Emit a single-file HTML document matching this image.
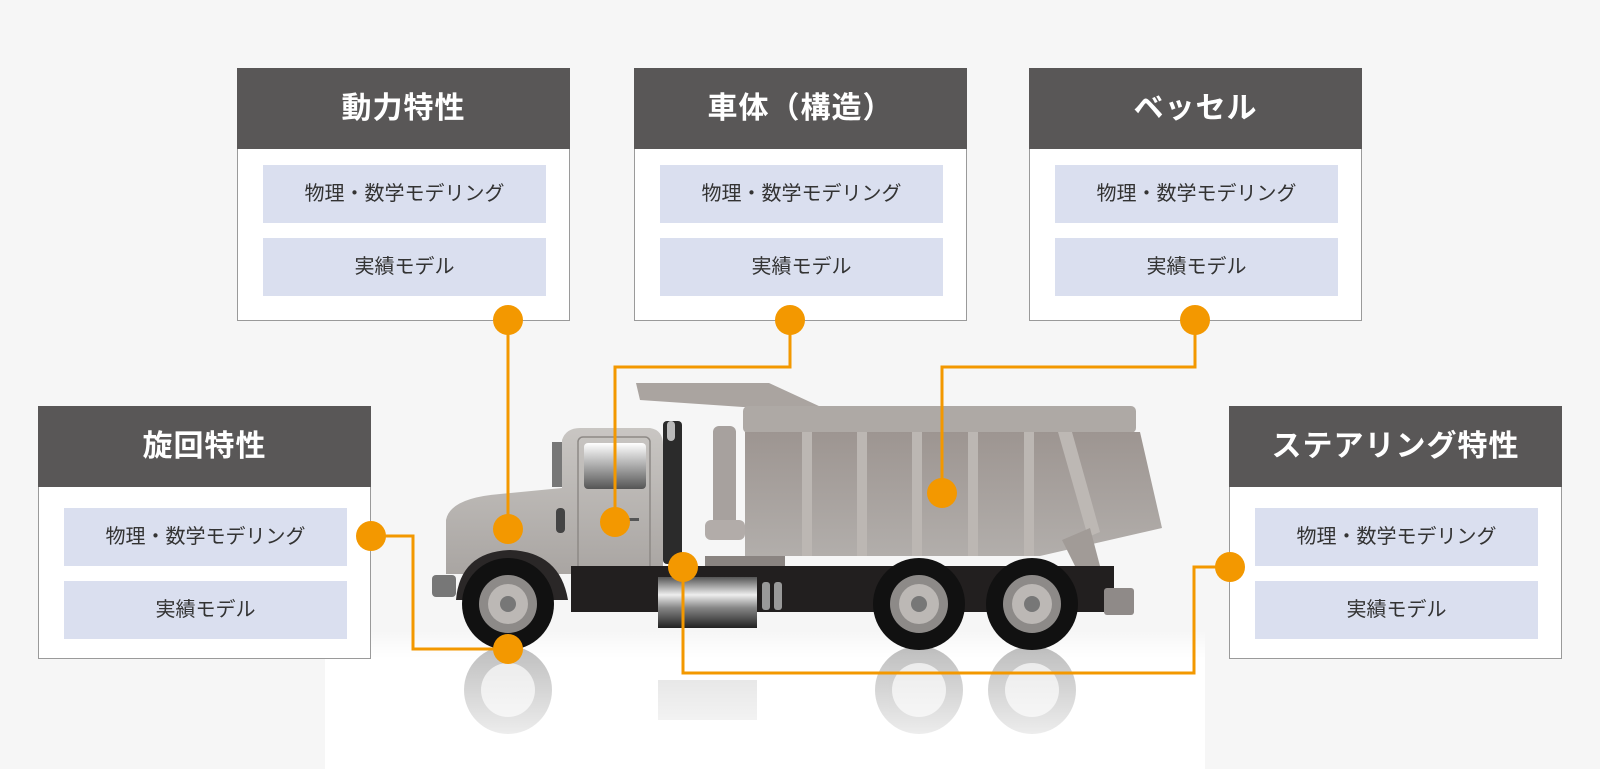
<!DOCTYPE html>
<html><head><meta charset="utf-8"><style>
html,body{margin:0;padding:0;}
body{width:1600px;height:769px;background:#f6f6f6;position:relative;overflow:hidden;font-family:"Liberation Sans","Noto Sans CJK JP",sans-serif;}
.box{position:absolute;background:#fff;border:1px solid #9a9a9a;box-sizing:border-box;width:333px;}
.hd{position:absolute;left:-1px;right:-1px;top:-1px;height:81px;background:#595757;color:#fff;font-weight:bold;font-size:30px;line-height:81px;text-align:center;letter-spacing:1px;}
.it{position:absolute;left:25px;width:283px;height:58px;background:#dadfef;color:#333;font-size:20px;line-height:58px;text-align:center;}
svg{position:absolute;left:0;top:0;}
#top{z-index:5;}
</style></head><body>
<svg width="1600" height="769" viewBox="0 0 1600 769">
<defs>
<linearGradient id="flr" x1="0" y1="0" x2="0" y2="1"><stop offset="0" stop-color="#fff" stop-opacity="0"/><stop offset="0.2" stop-color="#fff"/><stop offset="1" stop-color="#fff"/></linearGradient>
<linearGradient id="bod" x1="0" y1="0" x2="0" y2="1"><stop offset="0" stop-color="#9d9591"/><stop offset="1" stop-color="#b2aeab"/></linearGradient>
<linearGradient id="cab" x1="0" y1="0" x2="0" y2="1"><stop offset="0" stop-color="#c9c6c3"/><stop offset="1" stop-color="#a9a5a2"/></linearGradient>
<linearGradient id="tank" x1="0" y1="0" x2="0" y2="1"><stop offset="0" stop-color="#555"/><stop offset="0.35" stop-color="#eee"/><stop offset="0.6" stop-color="#888"/><stop offset="1" stop-color="#222"/></linearGradient>
<linearGradient id="win" x1="0" y1="0" x2="0" y2="1"><stop offset="0" stop-color="#fff"/><stop offset="1" stop-color="#555"/></linearGradient>
<linearGradient id="rf" x1="0" y1="0" x2="0" y2="1"><stop offset="0" stop-color="#fff" stop-opacity="0"/><stop offset="1" stop-color="#fff" stop-opacity="1"/></linearGradient>
</defs>
<rect x="325" y="630" width="880" height="139" fill="url(#flr)"/>
<g opacity="0.3">
<circle cx="508" cy="690" r="44" fill="#333"/><circle cx="508" cy="690" r="27" fill="#bbb"/>
<circle cx="919" cy="690" r="44" fill="#333"/><circle cx="919" cy="690" r="27" fill="#bbb"/>
<circle cx="1032" cy="690" r="44" fill="#333"/><circle cx="1032" cy="690" r="27" fill="#bbb"/>
<rect x="658" y="680" width="99" height="40" fill="#999"/>
</g>
<rect x="420" y="650" width="760" height="119" fill="url(#rf)"/>
<polygon points="636,383 769,383 821,407 743,407 640,400" fill="#aaa4a0"/>
<rect x="743" y="406" width="393" height="27" rx="5" fill="#aea9a5"/>
<polygon points="745,432 1140,432 1162,528 1040,556 745,556" fill="url(#bod)"/>
<polygon points="1058,432 1072,432 1100,532 1088,537" fill="#bdb8b4"/>
<g fill="#bcb7b3"><rect x="802" y="432" width="10" height="124"/><rect x="857" y="432" width="10" height="124"/><rect x="912" y="432" width="10" height="124"/><rect x="968" y="432" width="10" height="124"/><rect x="1024" y="432" width="10" height="124"/></g>
<polygon points="1062,540 1090,528 1100,566 1075,566" fill="#a19b97"/>
<rect x="713" y="426" width="23" height="110" rx="6" fill="#a7a19e"/>
<rect x="705" y="520" width="40" height="20" rx="6" fill="#b2aca9"/>
<rect x="705" y="556" width="80" height="14" fill="#8a8481"/>
<path d="M446,520 Q450,498 500,494 L562,488 L562,440 Q566,428 580,428 L650,428 Q663,430 663,445 L663,574 L446,574 Z" fill="url(#cab)"/>
<rect x="578" y="437" width="72" height="134" rx="5" fill="none" stroke="#8d8986" stroke-width="1.5"/>
<rect x="584" y="443" width="62" height="46" rx="4" fill="url(#win)"/>
<rect x="552" y="442" width="10" height="45" fill="#777"/>
<rect x="556" y="508" width="9" height="25" rx="4" fill="#444"/>
<rect x="625" y="518" width="14" height="3" fill="#555"/>
<path d="M456,600 Q460,552 510,550 Q560,552 568,600 Z" fill="#2a2727"/>
<rect x="663" y="421" width="19" height="143" rx="4" fill="#2b2b2b"/>
<rect x="667" y="421" width="8" height="20" rx="4" fill="#bbb"/>
<rect x="571" y="566" width="543" height="46" fill="#221f1f"/>
<rect x="432" y="575" width="24" height="22" rx="4" fill="#777"/>
<rect x="1104" y="588" width="30" height="27" rx="3" fill="#8f8a88"/>
<rect x="658" y="577" width="99" height="51" fill="url(#tank)"/>
<rect x="762" y="582" width="8" height="28" rx="3" fill="#999"/><rect x="774" y="582" width="8" height="28" rx="3" fill="#999"/>
<circle cx="508" cy="604" r="46" fill="#111"/><circle cx="508" cy="604" r="29" fill="#8d8a88"/><circle cx="508" cy="604" r="20" fill="#bcb8b5"/><circle cx="508" cy="604" r="8" fill="#777"/>
<circle cx="919" cy="604" r="46" fill="#111"/><circle cx="919" cy="604" r="29" fill="#8d8a88"/><circle cx="919" cy="604" r="20" fill="#bcb8b5"/><circle cx="919" cy="604" r="8" fill="#777"/>
<circle cx="1032" cy="604" r="46" fill="#111"/><circle cx="1032" cy="604" r="29" fill="#8d8a88"/><circle cx="1032" cy="604" r="20" fill="#bcb8b5"/><circle cx="1032" cy="604" r="8" fill="#777"/>
</svg>

<div class="box" style="left:237px;top:68px;height:253px;"><div class="hd">動力特性</div><div class="it" style="top:96px">物理・数学モデリング</div><div class="it" style="top:169px">実績モデル</div></div>
<div class="box" style="left:634px;top:68px;height:253px;"><div class="hd">車体（構造）</div><div class="it" style="top:96px">物理・数学モデリング</div><div class="it" style="top:169px">実績モデル</div></div>
<div class="box" style="left:1029px;top:68px;height:253px;"><div class="hd">ベッセル</div><div class="it" style="top:96px">物理・数学モデリング</div><div class="it" style="top:169px">実績モデル</div></div>
<div class="box" style="left:38px;top:406px;height:253px;"><div class="hd">旋回特性</div><div class="it" style="top:101px">物理・数学モデリング</div><div class="it" style="top:174px">実績モデル</div></div>
<div class="box" style="left:1229px;top:406px;height:253px;"><div class="hd">ステアリング特性</div><div class="it" style="top:101px">物理・数学モデリング</div><div class="it" style="top:174px">実績モデル</div></div>

<svg id="top" width="1600" height="769" viewBox="0 0 1600 769">
<g fill="none" stroke="#f39800" stroke-width="3">
<polyline points="508,320 508,529"/>
<polyline points="790,320 790,367 615,367 615,522"/>
<polyline points="1195,320 1195,367 942,367 942,493"/>
<polyline points="371,536 413,536 413,649 508,649"/>
<polyline points="683,567 683,673 1194,673 1194,567 1230,567"/>
</g>
<g fill="#f39800">
<circle cx="508" cy="320" r="15"/><circle cx="790" cy="320" r="15"/><circle cx="1195" cy="320" r="15"/>
<circle cx="371" cy="536" r="15"/><circle cx="508" cy="529" r="15"/><circle cx="615" cy="522" r="15"/>
<circle cx="942" cy="493" r="15"/><circle cx="508" cy="649" r="15"/><circle cx="683" cy="567" r="15"/><circle cx="1230" cy="567" r="15"/>
</g>
</svg>
</body></html>
